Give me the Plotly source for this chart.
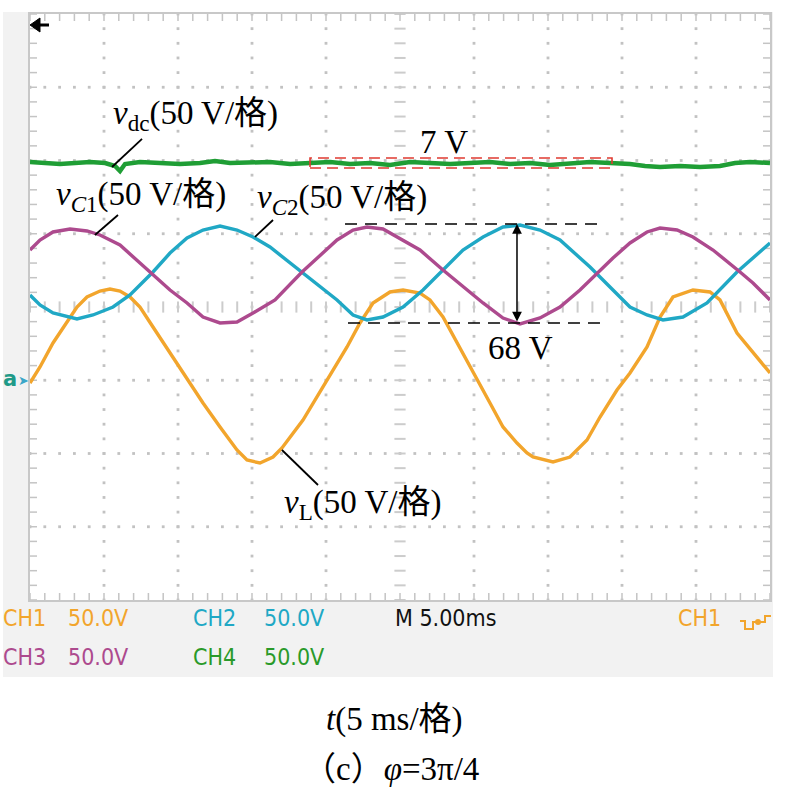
import plotly.graph_objects as go

# ---- data: time in screen divisions (5 ms/div), amplitude in screen divisions (50 V/div) ----
VL_T = [0, 0.135, 0.311, 0.5, 0.635, 0.770, 0.946, 1.081, 1.216, 1.351, 1.486, 1.662, 1.892, 2.122,
        2.338, 2.568, 2.797, 2.932, 3.108, 3.284, 3.405, 3.689, 4.014, 4.284, 4.459, 4.635, 4.865,
        5.041, 5.270, 5.405, 5.581, 5.851, 6.041, 6.216, 6.392, 6.581, 6.716, 6.797, 7.068, 7.297,
        7.527, 7.703, 7.932, 8.108, 8.338, 8.514, 8.689, 8.959, 9.189, 9.324, 9.554, 9.770, 10.0]
VL_Y = [-1.038, -0.819, -0.491, -0.205, 0.0, 0.137, 0.218, 0.246, 0.218, 0.137, 0.0, -0.273, -0.628,
        -0.997, -1.311, -1.638, -1.952, -2.089, -2.130, -2.048, -1.925, -1.543, -0.997, -0.546,
        -0.218, 0.055, 0.205, 0.232, 0.191, 0.096, -0.137, -0.628, -0.997, -1.311, -1.638, -1.857,
        -1.993, -2.048, -2.116, -2.048, -1.816, -1.502, -1.133, -0.901, -0.546, -0.137, 0.137, 0.232,
        0.205, 0.096, -0.355, -0.628, -0.901]

VC1_T = [0, 0.135, 0.311, 0.541, 0.770, 0.946, 1.216, 1.446, 1.662, 1.892, 2.122, 2.338, 2.568, 2.797,
         3.014, 3.243, 3.311, 3.676, 3.919, 4.149, 4.365, 4.554, 4.770, 4.959, 5.270, 5.581, 5.851,
         6.122, 6.392, 6.622, 6.892, 7.162, 7.432, 7.662, 7.878, 8.108, 8.338, 8.514, 8.743, 8.959,
         9.230, 9.595, 9.770, 10.0]
VC1_Y = [0.778, 0.915, 1.024, 1.065, 1.038, 0.983, 0.846, 0.642, 0.437, 0.232, 0.055, -0.137, -0.218,
         -0.205, -0.082, 0.055, 0.096, 0.478, 0.710, 0.915, 1.051, 1.092, 1.065, 0.956, 0.778, 0.505,
         0.273, 0.055, -0.150, -0.232, -0.150, 0.0, 0.232, 0.464, 0.669, 0.874, 1.024, 1.078, 1.051,
         0.956, 0.778, 0.478, 0.328, 0.096]

VC2_T = [0, 0.135, 0.311, 0.635, 0.851, 1.122, 1.351, 1.662, 1.892, 2.122, 2.338, 2.568, 2.797, 3.014,
         3.243, 3.676, 3.919, 4.149, 4.365, 4.554, 4.770, 5.041, 5.311, 5.581, 5.851, 6.122, 6.392,
         6.622, 6.892, 7.162, 7.568, 7.878, 8.108, 8.338, 8.554, 8.824, 9.149, 9.554, 9.770, 10.0]
VC2_Y = [0.164, 0.027, -0.082, -0.164, -0.109, 0.0, 0.164, 0.478, 0.737, 0.942, 1.051, 1.106, 1.051,
         0.956, 0.819, 0.478, 0.273, 0.096, -0.109, -0.177, -0.137, 0.0, 0.232, 0.505, 0.778, 0.956,
         1.092, 1.119, 1.051, 0.915, 0.546, 0.232, 0.0, -0.109, -0.177, -0.137, 0.055, 0.478, 0.669,
         0.874]

VDC_T = [0, 0.203, 0.405, 0.608, 0.811, 1.014, 1.149, 1.216, 1.284, 1.486, 1.757, 2.027, 2.297, 2.5,
         2.703, 2.973, 3.243, 3.514, 3.784, 4.054, 4.324, 4.595, 4.865, 5.135, 5.405, 5.676, 5.946,
         6.216, 6.486, 6.757, 7.027, 7.297, 7.568, 7.838, 8.108, 8.311, 8.514, 8.784, 9.054, 9.324,
         9.527, 9.730, 10.0]
VDC_Y = [1.980, 1.966, 1.952, 1.966, 1.980, 1.966, 1.925, 1.857, 1.952, 1.980, 1.966, 1.952, 1.966,
         1.993, 1.966, 1.966, 1.980, 1.952, 1.966, 1.980, 1.952, 1.966, 1.939, 1.980, 1.966, 1.952,
         1.966, 1.980, 1.952, 1.966, 1.939, 1.966, 1.980, 1.966, 1.952, 1.925, 1.911, 1.925, 1.911,
         1.925, 1.966, 1.980, 1.966]

N_XDIV = 10
N_YDIV = 8
MINOR = 0.2

C_ORANGE = "#f2a52c"
C_MAGENTA = "#ad4a8e"
C_CYAN = "#20a8c5"
C_GREEN = "#1f9e35"
GRID_C = "#c2c2c2"
BEZEL = "#f2f2f2"

SERIF = "Liberation Serif, Noto Sans CJK SC, serif"
SCOPE = "DejaVu Sans Condensed, Liberation Sans Narrow, Roboto, sans-serif"

W, H = 785, 792
ML, MR, MT, MB = 30, 15, 14, 192


def px(x):
    return (x - ML) / (W - ML - MR)


def py(y):
    return (H - MB - y) / (H - MT - MB)


fig = go.Figure()

# graticule dots
gx, gy = [], []
for k in range(1, N_XDIV):
    if k == N_XDIV // 2:
        continue
    for j in range(int(N_YDIV / MINOR) + 1):
        gx.append(k)
        gy.append(-N_YDIV / 2 + j * MINOR)
for k in range(-N_YDIV // 2 + 1, N_YDIV // 2):
    if k == 0:
        continue
    for j in range(int(N_XDIV / MINOR) + 1):
        gx.append(j * MINOR)
        gy.append(k)
fig.add_trace(go.Scatter(x=gx, y=gy, mode="markers", hoverinfo="skip",
                         marker=dict(symbol="square", size=2.8, color=GRID_C, line=dict(width=0))))

# centre-axis ticks
cx = [j * MINOR for j in range(int(N_XDIV / MINOR) + 1)]
fig.add_trace(go.Scatter(x=cx, y=[0] * len(cx), mode="markers", hoverinfo="skip",
                         marker=dict(symbol="line-ns", size=8, line=dict(width=2, color="#cccccc"))))
cy = [-N_YDIV / 2 + j * MINOR for j in range(int(N_YDIV / MINOR) + 1)]
fig.add_trace(go.Scatter(x=[N_XDIV / 2] * len(cy), y=cy, mode="markers", hoverinfo="skip",
                         marker=dict(symbol="line-ew", size=8, line=dict(width=2, color="#cccccc"))))
# edge ticks (half clipped -> inward)
fig.add_trace(go.Scatter(x=cx + cx, y=[N_YDIV / 2] * len(cx) + [-N_YDIV / 2] * len(cx),
                         mode="markers", hoverinfo="skip",
                         marker=dict(symbol="line-ns", size=10, line=dict(width=1.5, color="#c4c4c4"))))
fig.add_trace(go.Scatter(x=[0] * len(cy) + [N_XDIV] * len(cy), y=cy + cy,
                         mode="markers", hoverinfo="skip",
                         marker=dict(symbol="line-ew", size=10, line=dict(width=1.5, color="#c4c4c4"))))

# waveforms
fig.add_trace(go.Scatter(x=VDC_T, y=VDC_Y, mode="lines", line=dict(color=C_GREEN, width=4.5)))
fig.add_trace(go.Scatter(x=VL_T, y=VL_Y, mode="lines", line=dict(color=C_ORANGE, width=3.4)))
fig.add_trace(go.Scatter(x=VC2_T, y=VC2_Y, mode="lines", line=dict(color=C_CYAN, width=3.4)))
fig.add_trace(go.Scatter(x=VC1_T, y=VC1_Y, mode="lines", line=dict(color=C_MAGENTA, width=3.4)))

shapes = []
# bezel: four strips around the screen
for (a0, a1, b0, b1) in [(3, 773, 12, 14), (3, 30, 12, 677), (770, 773, 12, 677), (3, 773, 600, 677)]:
    shapes.append(dict(type="rect", xref="paper", yref="paper", x0=px(a0), x1=px(a1), y0=py(b1), y1=py(b0),
                       fillcolor=BEZEL, line=dict(width=0), layer="below"))
# leader lines
for (x0, y0, x1, y1) in [(1.514, 2.294, 1.108, 1.911), (1.189, 1.256, 0.878, 0.983),
                         (3.284, 1.188, 3.041, 0.956), (3.405, -1.952, 3.892, -2.430)]:
    shapes.append(dict(type="line", xref="x", yref="y", x0=x0, y0=y0, x1=x1, y1=y1,
                       line=dict(color="black", width=1.8)))
# 68 V dashed guides
shapes.append(dict(type="line", xref="x", yref="y", x0=4.257, x1=7.676, y0=1.133, y1=1.133,
                   line=dict(color="black", width=1.5, dash="12px,8px")))
shapes.append(dict(type="line", xref="x", yref="y", x0=4.297, x1=7.730, y0=-0.218, y1=-0.218,
                   line=dict(color="black", width=1.5, dash="12px,8px")))
# 7 V dashed red box
shapes.append(dict(type="rect", xref="x", yref="y", x0=3.784, x1=7.865, y0=1.898, y1=2.034,
                   line=dict(color="#e03a30", width=1.6, dash="11px,6px")))
# trigger symbol
tp = [(740, 621), (745, 621), (745, 629), (753, 629), (753, 622), (765, 622), (765, 616), (771, 616)]
path = "M " + " L ".join(f"{px(a):.5f},{py(b):.5f}" for a, b in tp)
shapes.append(dict(type="path", xref="paper", yref="paper", path=path,
                   line=dict(color=C_ORANGE, width=2)))
shapes.append(dict(type="circle", xref="paper", yref="paper", x0=px(755), x1=px(761), y0=py(625), y1=py(619),
                   fillcolor=C_ORANGE, line=dict(width=0)))
# trigger-position arrow (top left)
shapes.append(dict(type="line", xref="paper", yref="paper", x0=px(36), x1=px(49), y0=py(25), y1=py(25),
                   line=dict(color="black", width=3)))
tri = [(30, 25), (40, 18), (40, 32)]
shapes.append(dict(type="path", xref="paper", yref="paper",
                   path="M " + " L ".join(f"{px(a):.5f},{py(b):.5f}" for a, b in tri) + " Z",
                   fillcolor="black", line=dict(color="black", width=1)))

ann = []


def label(x, y, text, size=33, anchor="left", color="black", ref="data", font=SERIF):
    d = dict(x=x, y=y, text=text, showarrow=False, xanchor=anchor, yanchor="middle",
             font=dict(family=font, size=size, color=color))
    if ref == "paper":
        d.update(xref="paper", yref="paper")
    else:
        d.update(xref="x", yref="y")
    ann.append(d)


label(1.10, 2.621, "<i>v</i><sub>dc</sub>(50 V/格)")
label(0.33, 1.515, "<i>v</i><sub><i>C</i>1</sub>(50 V/格)")
label(3.04, 1.461, "<i>v</i><sub><i>C</i>2</sub>(50 V/格)")
label(3.40, -2.703, "<i>v</i><sub>L</sub>(50 V/格)")
label(5.595, 2.253, "7 V", anchor="center")
label(6.635, -0.560, "68 V", anchor="center")

label(px(394), py(719), "<i>t</i>(5 ms/格)", size=33, anchor="center", ref="paper")
label(px(391), py(769), "（c）<i>φ</i>=3π/4", size=33, anchor="center", ref="paper")

# scope readouts
for (xx, yy, t, c) in [(1, 618, "CH1", C_ORANGE), (66, 618, "50.0V", C_ORANGE),
                       (191, 618, "CH2", C_CYAN), (262, 618, "50.0V", C_CYAN),
                       (393, 618, "M 5.00ms", "#111111"), (676, 618, "CH1", C_ORANGE),
                       (1, 657, "CH3", C_MAGENTA), (66, 657, "50.0V", C_MAGENTA),
                       (191, 657, "CH4", "#2a9a2a"), (262, 657, "50.0V", "#2a9a2a")]:
    label(px(xx), py(yy), t, size=23, anchor="left", color=c, ref="paper", font=SCOPE)

# ground marker
label(px(10), py(379), "<b>a</b>", size=21, anchor="center", color="#1f9a88", ref="paper",
      font="DejaVu Sans, sans-serif")
label(px(23), py(380), "➤", size=13, anchor="center", color="#3aa6c8", ref="paper",
      font="DejaVu Sans, sans-serif")

# 68 V double arrow
ann.append(dict(x=6.581, y=1.133, ax=6.581, ay=-0.218, xref="x", yref="y", axref="x", ayref="y",
                text="", showarrow=True, arrowhead=2, arrowside="end+start", arrowsize=1.3,
                arrowwidth=1.5, arrowcolor="black", standoff=0, startstandoff=0))

fig.update_layout(
    width=W, height=H,
    margin=dict(l=ML, r=MR, t=MT, b=MB),
    paper_bgcolor="white", plot_bgcolor="white",
    showlegend=False,
    shapes=shapes, annotations=ann,
    xaxis=dict(range=[0, N_XDIV], showgrid=False, zeroline=False, showticklabels=False, ticks="",
               showline=True, mirror=True, linecolor="#c8c8c8", linewidth=2, fixedrange=True),
    yaxis=dict(range=[-N_YDIV / 2, N_YDIV / 2], showgrid=False, zeroline=False, showticklabels=False,
               ticks="", showline=True, mirror=True, linecolor="#c8c8c8", linewidth=2, fixedrange=True),
)

fig.write_html("out.html", config={"displayModeBar": False},
               post_script="document.body.style.margin='0px';")
